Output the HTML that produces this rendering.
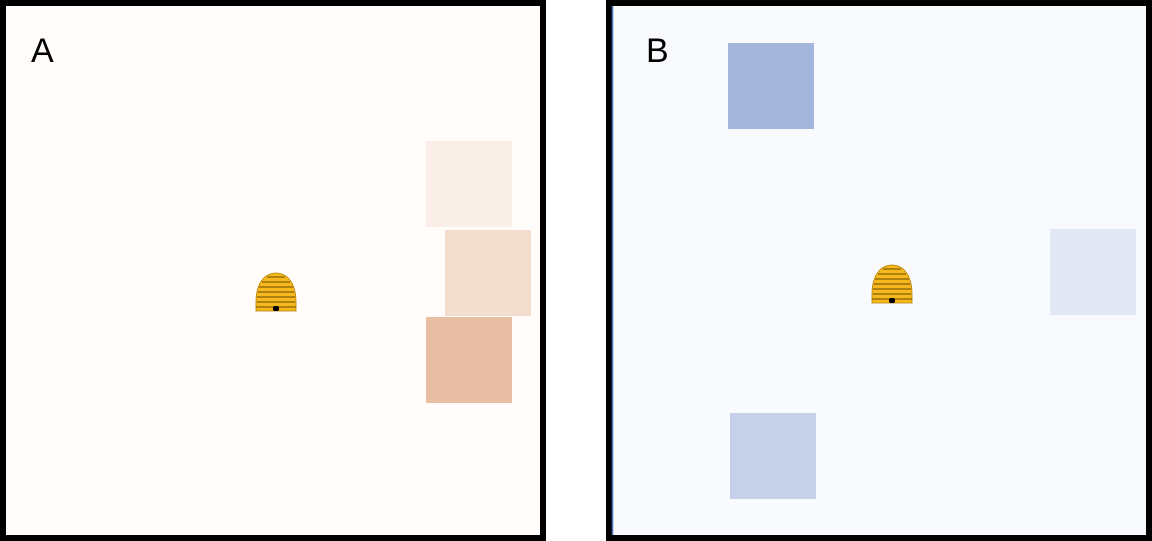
<!DOCTYPE html>
<html><head><meta charset="utf-8"><style>
html,body{margin:0;padding:0;background:#fff;width:1152px;height:541px;overflow:hidden}
svg{display:block}
text{font-family:"Liberation Sans",sans-serif}
</style></head><body>
<svg id="fig" width="1152" height="541" viewBox="0 0 1152 541">
  <defs>
    <g id="hive">
      <path d="M-20,19 L-20,10 Q-20,-8 -10,-16 Q0,-22 10,-16 Q20,-8 20,10 L20,19 Z" fill="#f7b81e" stroke="#b07d00" stroke-width="0.8"/>
      <g stroke="#6a4a00" stroke-width="0.9" fill="none">
        <path d="M-9,-15 H9"/><path d="M-14,-10 H14"/><path d="M-17,-5 H17"/>
        <path d="M-18,0 H18"/><path d="M-19,5 H19"/><path d="M-19,10 H19"/><path d="M-20,15 H20"/>
      </g>
      <rect x="-3" y="14" width="6" height="5" rx="2" fill="#000"/>
    </g>
  </defs>
  <g>
    <rect x="3" y="3" width="540" height="535" fill="#fffcfa" stroke="#000" stroke-width="6"/>
    <text x="31" y="62" font-size="34" fill="#000">A</text>
    <g id="patchesA"></g>
    <use href="#hive" x="276" y="292"/>
  </g>
  <g>
    <rect x="609" y="3" width="540" height="535" fill="#f8fafd" stroke="#000" stroke-width="6"/>
    <line x1="612.5" y1="6" x2="612.5" y2="535" stroke="#4a6fc0" stroke-width="1.5"/>
    <text x="646" y="62" font-size="34" fill="#000">B</text>
    <g id="patchesB"></g>
    <use href="#hive" x="892" y="284"/>
  </g>
</svg>
<script>
// patch intensities (0..1)
const patchNamesA = ['patch-a-top','patch-a-middle','patch-a-bottom'];
const intensityA = [0.15, 0.35, 0.7];
const patchNamesB = ['patch-b-top','patch-b-right','patch-b-bottom'];
const intensityB = [0.75, 0.2, 0.45];
const layoutA = [[426,141],[445,230],[426,317]];
const layoutB = [[728,43],[1050,229],[730,413]];
const NS='http://www.w3.org/2000/svg';
function mix(c,i){i=i*0.7;const bg=c.bg,fg=c.fg;return 'rgb('+bg.map((v,k)=>Math.round(v+(fg[k]-v)*i)).join(',')+')';}
function draw(gid,names,vals,lay,col){
  const g=document.getElementById(gid);
  vals.forEach((v,i)=>{
    const r=document.createElementNS(NS,'rect');
    r.setAttribute('x',lay[i][0]);r.setAttribute('y',lay[i][1]);
    r.setAttribute('width',86);r.setAttribute('height',86);
    r.setAttribute('fill',mix(col,v));
    
    
    g.appendChild(r);
  });
}
draw('patchesA',patchNamesA,intensityA,layoutA,{bg:[255,252,250],fg:[205,125,75]});
draw('patchesB',patchNamesB,intensityB,layoutB,{bg:[248,250,253],fg:[90,120,190]});
</script>
</body></html>
